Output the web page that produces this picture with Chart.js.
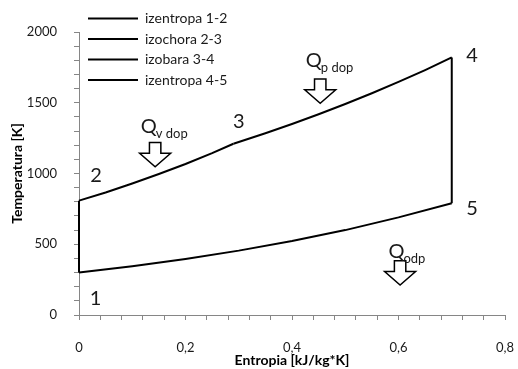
<!DOCTYPE html>
<html>
<head>
<meta charset="utf-8">
<script src="https://cdn.jsdelivr.net/npm/chart.js@4.4.0/dist/chart.umd.min.js"></script>
<style>
  html, body { margin: 0; padding: 0; background: #fff; }
  #wrap { position: relative; width: 518px; height: 369px; }
</style>
</head>
<body>
<div id="wrap"><canvas id="ts-chart"></canvas></div>
<script>
// T-s dijagram ciklusa: entropija [kJ/kg*K] na x, temperatura [K] na y
const izentropa12S = [0, 0];
const izentropa12T = [300, 808];

const izochora23S = [0, 0.05, 0.10, 0.15, 0.20, 0.25, 0.29];
const izochora23T = [808, 866, 929, 996, 1067, 1144, 1210];

const izobara34S = [0.29, 0.35, 0.40, 0.45, 0.50, 0.55, 0.60, 0.65, 0.70];
const izobara34T = [1210, 1284, 1350, 1419, 1491, 1567, 1647, 1731, 1820];

const izentropa45S = [0.70, 0.70];
const izentropa45T = [1820, 790];

// povratak 5-1 (nema ga u legendi)
const izochora51S = [0.70, 0.60, 0.50, 0.40, 0.30, 0.20, 0.10, 0];
const izochora51T = [790, 690, 600, 523, 455, 396, 345, 300];

const seriesLabels = ['izentropa 1-2', 'izochora 2-3', 'izobara 3-4', 'izentropa 4-5'];
const xMajorTicks = [0, 0.2, 0.4, 0.6, 0.8];
const yMajorTicks = [0, 500, 1000, 1500, 2000];

const FONT = 'Lato, "Liberation Sans", sans-serif';
const AXIS_GRAY = '#868686';
const TEXT = '#1a1a1a';

// oznake stanja i toplina, u koordinatama dijagrama
const stateLabels = [
    { text: '1', s: 0.031, t: 113 },
    { text: '2', s: 0.032, t: 989 },
    { text: '3', s: 0.300, t: 1364 },
    { text: '4', s: 0.738, t: 1837 },
    { text: '5', s: 0.738, t: 749 }
];
const heatLabels = [
    { sub: 'v dop', s: 0.116, t: 1286, tipS: 0.143, tipT: 1048 },
    { sub: 'p dop', s: 0.426, t: 1754, tipS: 0.453, tipT: 1496 },
    { sub: 'odp', s: 0.581, t: 400, tipS: 0.603, tipT: 212 }
];

const toPoints = (s, t) => s.map((v, i) => ({ x: v, y: t[i] }));
const isMajor = (value, list) => list.some(m => Math.abs(m - value) < 1e-6);

const lineSet = (label, s, t) => ({
    label: label,
    data: toPoints(s, t),
    showLine: true,
    borderColor: '#000',
    backgroundColor: '#000',
    borderWidth: 2,
    pointRadius: 0,
    tension: 0,
    clip: 4
});

const drawArrow = (ctx, x, y) => {
    const headH = 13.5, shaftH = 10.8, headHalf = 15.5, shaftHalf = 5.7;
    ctx.beginPath();
    ctx.moveTo(x - shaftHalf, y - headH - shaftH);
    ctx.lineTo(x + shaftHalf, y - headH - shaftH);
    ctx.lineTo(x + shaftHalf, y - headH);
    ctx.lineTo(x + headHalf, y - headH);
    ctx.lineTo(x, y);
    ctx.lineTo(x - headHalf, y - headH);
    ctx.lineTo(x - shaftHalf, y - headH);
    ctx.closePath();
    ctx.fillStyle = '#fff';
    ctx.fill();
    ctx.lineWidth = 1.5;
    ctx.strokeStyle = '#000';
    ctx.stroke();
};

const cycleAnnotations = {
    id: 'cycleAnnotations',
    afterDatasetsDraw(chart) {
        const { ctx, scales: { x, y } } = chart;
        ctx.save();
        ctx.fillStyle = TEXT;
        ctx.textAlign = 'center';
        ctx.textBaseline = 'middle';
        ctx.font = '20px ' + FONT;
        stateLabels.forEach(l => {
            ctx.fillText(l.text, x.getPixelForValue(l.s), y.getPixelForValue(l.t));
        });

        heatLabels.forEach(h => {
            drawArrow(ctx, x.getPixelForValue(h.tipS), y.getPixelForValue(h.tipT));
            const qx = x.getPixelForValue(h.s);
            const qy = y.getPixelForValue(h.t);
            ctx.fillStyle = TEXT;
            ctx.textAlign = 'left';
            ctx.textBaseline = 'alphabetic';
            ctx.font = '20px ' + FONT;
            ctx.fillText('Q', qx, qy);
            const w = ctx.measureText('Q').width;
            ctx.font = '13px ' + FONT;
            ctx.fillText(h.sub, qx + w - 1, qy + 5);
        });
        ctx.restore();
    },
    afterDraw(chart) {
        // legenda gore lijevo, preko podrucja dijagrama
        const { ctx } = chart;
        ctx.save();
        ctx.font = '14px ' + FONT;
        ctx.textAlign = 'left';
        ctx.textBaseline = 'middle';
        chart.data.datasets.forEach((ds, i) => {
            if (!ds.label) return;
            const rowY = 18.5 + i * 20.5;
            ctx.beginPath();
            ctx.moveTo(88, rowY);
            ctx.lineTo(138, rowY);
            ctx.lineWidth = 2;
            ctx.strokeStyle = ds.borderColor;
            ctx.stroke();
            ctx.fillStyle = TEXT;
            ctx.fillText(ds.label, 145, rowY);
        });
        ctx.restore();
    }
};

new Chart(document.getElementById('ts-chart'), {
    type: 'scatter',
    data: {
        datasets: [
            lineSet(seriesLabels[0], izentropa12S, izentropa12T),
            lineSet(seriesLabels[1], izochora23S, izochora23T),
            lineSet(seriesLabels[2], izobara34S, izobara34T),
            lineSet(seriesLabels[3], izentropa45S, izentropa45T),
            lineSet('', izochora51S, izochora51T)
        ]
    },
    options: {
        responsive: true,
        maintainAspectRatio: false,
        animation: false,
        layout: { padding: { top: 32, right: 13, left: 0, bottom: 0 } },
        plugins: {
            legend: { display: false },
            tooltip: { enabled: false }
        },
        scales: {
            x: {
                type: 'linear',
                min: 0,
                max: 0.8,
                afterFit: (scale) => {
                    scale.height = 54;
                    // razmak natpisa ne smije suziti podrucje crtanja
                    scale.paddingLeft = 0;
                    scale.paddingRight = 0;
                },
                grid: { drawOnChartArea: false, drawTicks: true, tickLength: 5, color: AXIS_GRAY },
                border: { color: AXIS_GRAY, width: 1 },
                ticks: {
                    stepSize: 0.04,
                    autoSkip: false,
                    maxRotation: 0,
                    padding: 20,
                    color: TEXT,
                    font: { family: FONT, size: 13 },
                    callback: (v) => isMajor(v, xMajorTicks) ? (v === 0 ? '0' : v.toFixed(1).replace('.', ',')) : ''
                },
                title: {
                    display: true,
                    text: 'Entropia [kJ/kg*K]',
                    color: '#000',
                    padding: 0,
                    font: { family: FONT, size: 14, weight: 'bold' }
                }
            },
            y: {
                type: 'linear',
                min: 0,
                max: 2000,
                afterFit: (scale) => {
                    scale.width = 79;
                    scale.paddingTop = 0;
                    scale.paddingBottom = 0;
                },
                grid: { drawOnChartArea: false, drawTicks: true, tickLength: 5, color: AXIS_GRAY },
                border: { color: AXIS_GRAY, width: 1 },
                ticks: {
                    stepSize: 100,
                    autoSkip: false,
                    padding: 17,
                    color: TEXT,
                    font: { family: FONT, size: 13 },
                    callback: (v) => isMajor(v, yMajorTicks) ? String(v) : ''
                },
                title: {
                    display: true,
                    text: 'Temperatura [K]',
                    color: '#000',
                    padding: { top: 9 },
                    font: { family: FONT, size: 14, weight: 'bold' }
                }
            }
        }
    },
    plugins: [cycleAnnotations]
});
</script>
</body>
</html>
